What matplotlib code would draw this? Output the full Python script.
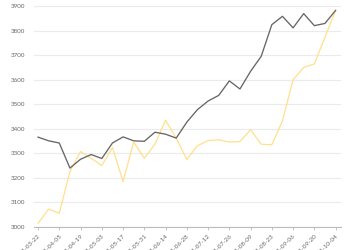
import matplotlib
matplotlib.use("Agg")
import matplotlib.pyplot as plt
import pandas as pd

# weekly dates
dates = [
    "2025-03-22", "2025-03-29", "2025-04-05", "2025-04-12", "2025-04-19",
    "2025-04-26", "2025-05-03", "2025-05-10", "2025-05-17", "2025-05-24",
    "2025-05-31", "2025-06-07", "2025-06-14", "2025-06-21", "2025-06-28",
    "2025-07-05", "2025-07-12", "2025-07-19", "2025-07-26", "2025-08-02",
    "2025-08-09", "2025-08-16", "2025-08-23", "2025-08-30", "2025-09-06",
    "2025-09-13", "2025-09-20", "2025-09-27", "2025-10-04",
]

dark_values = [
    3366, 3351, 3342, 3240, 3276, 3295, 3279, 3342, 3367, 3351,
    3349, 3386, 3378, 3362, 3427, 3478, 3513, 3536, 3595, 3562,
    3634, 3695, 3824, 3858, 3811, 3869, 3820, 3829, 3882,
]

yellow_values = [
    3015, 3073, 3056, 3226, 3307, 3280, 3250, 3324, 3185, 3346,
    3280, 3337, 3435, 3362, 3275, 3331, 3352, 3355, 3346, 3348,
    3396, 3337, 3335, 3432, 3600, 3650, 3664, 3773, 3882,
]

y_ticks = [3000, 3100, 3200, 3300, 3400, 3500, 3600, 3700, 3800, 3900]

x = pd.to_datetime(dates)

plt.rcParams['font.family'] = ['Lato', 'DejaVu Sans']

fig = plt.figure(figsize=(3.5, 2.5), dpi=100)
ax = fig.add_axes([0.097, 0.092, 0.877, 0.884])

ax.plot(x, yellow_values, color='#FFE08A', linewidth=0.9, zorder=3)
ax.plot(x, dark_values, color='#666666', linewidth=0.95, zorder=4)

ax.set_ylim(3000, 3900)
ax.set_yticks(y_ticks)
ax.set_xlim(x[0] - pd.Timedelta(days=2.7), x[-1] + pd.Timedelta(days=3.5))
ax.set_xticks(x[::2])
ax.set_xticklabels(dates[::2], rotation=45, ha='right', rotation_mode='anchor')

ax.grid(axis='y', color='#EBEBEB', linewidth=0.8)
ax.set_axisbelow(True)
for side in ['left', 'right', 'top']:
    ax.spines[side].set_visible(False)
ax.spines['bottom'].set_color('#BBBBBB')
ax.spines['bottom'].set_linewidth(0.8)

ax.tick_params(axis='y', length=0, labelsize=4.5, labelcolor='#666666', pad=6)
ax.tick_params(axis='x', length=2.5, width=0.6, color='#BBBBBB',
               labelsize=4.5, labelcolor='#666666', pad=2)

fig.savefig("out.png", dpi=100)
